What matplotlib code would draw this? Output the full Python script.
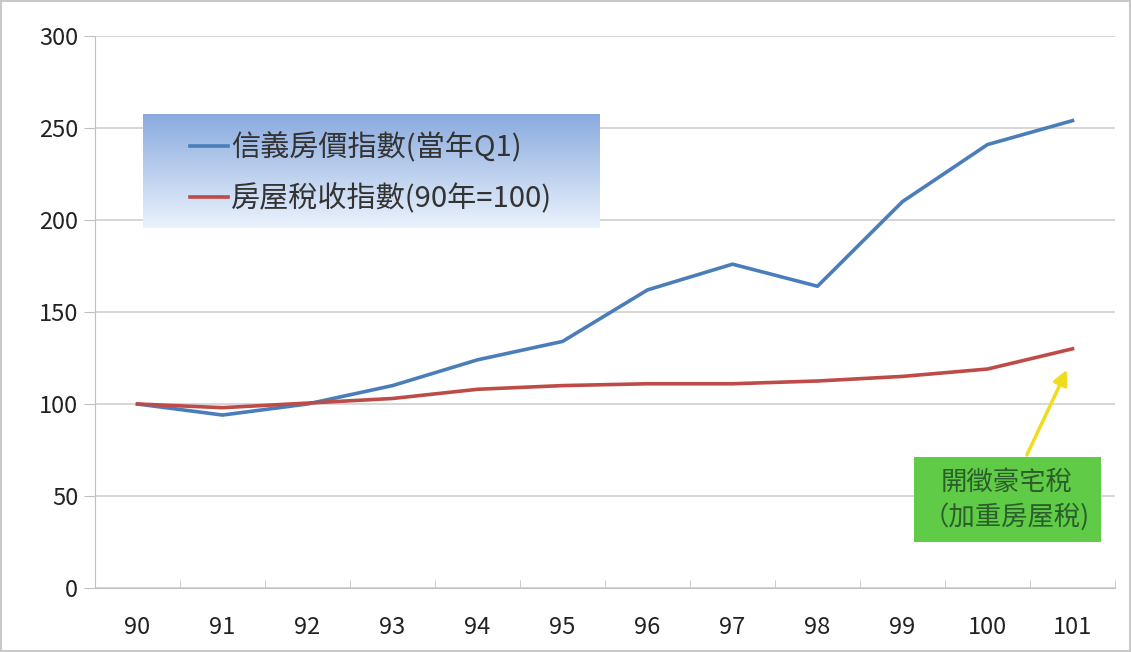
import numpy as np
import matplotlib.pyplot as plt
from matplotlib.patches import Rectangle

plt.rcParams['font.family'] = ['Noto Sans CJK TC', 'DejaVu Sans']

# 資料
years = ['90', '91', '92', '93', '94', '95', '96', '97', '98', '99', '100', '101']
house_price_idx = [100, 94, 100, 110, 124, 134, 162, 176, 164, 210, 241, 254]
house_tax_idx = [100, 98, 100.5, 103, 108, 110, 111, 111, 112.5, 115, 119, 130]
labels = ['信義房價指數(當年Q1)', '房屋稅收指數(90年=100)']

fig = plt.figure(figsize=(11.31, 6.52), dpi=100)
fig.patch.set_edgecolor('#c8c8c8')
fig.patch.set_linewidth(1.5)
ax = fig.add_axes([95 / 1131, 64 / 652, 1020 / 1131, 552 / 652])

x = np.arange(len(years))
ax.plot(x, house_price_idx, color='#4a7ebb', lw=2.6, label=labels[0], zorder=3)
ax.plot(x, house_tax_idx, color='#be4b48', lw=2.6, label=labels[1], zorder=3)

# 座標軸
ax.set_ylim(0, 300)
ax.set_yticks(range(0, 301, 50))
ax.set_xticks(x)
ax.set_xticklabels(years)
ax.set_xticks(np.arange(-0.5, len(years), 1), minor=True)
ax.tick_params(axis='x', which='major', length=0, pad=20, labelsize=17, colors='#222222')
ax.tick_params(axis='x', which='minor', length=6, color='#c0c0c0', direction='in')
ax.tick_params(axis='y', length=8, color='#c0c0c0', labelsize=17, pad=4, colors='#222222')
ax.grid(axis='y', color='#cfcfcf', lw=1.2)
ax.set_axisbelow(True)
for s in ['top', 'right']:
    ax.spines[s].set_visible(False)
for s in ['left', 'bottom']:
    ax.spines[s].set_color('#c0c0c0')

# 圖例的漸層底色
x0, x1, y0, y1 = 0.047, 0.495, 0.652, 0.857
grad = np.linspace(0, 1, 100).reshape(-1, 1, 1)
top = np.array([0.54, 0.67, 0.87])
bot = np.array([0.92, 0.95, 0.99])
img = top + (bot - top) * grad
ax.imshow(img, extent=[x0, x1, y0, y1], transform=ax.transAxes, aspect='auto', zorder=2)
leg = ax.legend(loc='upper left', bbox_to_anchor=(0.093, 0.825), frameon=False,
                fontsize=21, handlelength=1.3, handletextpad=0.1, labelspacing=0.72,
                borderpad=0, borderaxespad=0, labelcolor='#333333')
leg.set_zorder(4)

ax.set_xlim(-0.5, len(years) - 0.5)
ax.set_ylim(0, 300)

# 註解
ax.annotate('', xy=(10.95, 120), xytext=(10.45, 71),
            arrowprops=dict(arrowstyle='-|>', color='#f0dc1e', lw=2.5, mutation_scale=22),
            zorder=5)
ax.add_patch(Rectangle((9.13, 25), 2.21, 46, fc='#5fcb46', ec='none', zorder=6))
ax.text(10.22, 48, '開徵豪宅稅\n（加重房屋稅)', ha='center', va='center', fontsize=19,
        color='#2a5e2a', linespacing=1.3, zorder=7)

fig.savefig('out.png', dpi=100)
